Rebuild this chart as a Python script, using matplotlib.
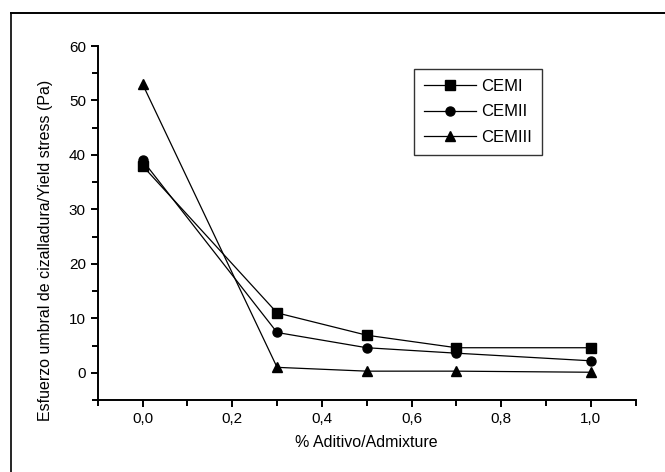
import numpy as np
import matplotlib
matplotlib.use("Agg")
import matplotlib.pyplot as plt
from matplotlib.ticker import MultipleLocator, FuncFormatter
from matplotlib.lines import Line2D

plt.rcParams["font.family"] = ["Liberation Sans", "DejaVu Sans"]

# data
admixture = [0.0, 0.3, 0.5, 0.7, 1.0]
cem_i = [38.0, 11.0, 6.9, 4.6, 4.6]
cem_ii = [39.0, 7.4, 4.6, 3.6, 2.2]
cem_iii = [53.0, 1.0, 0.3, 0.3, 0.1]
series_names = ["CEMI", "CEMII", "CEMIII"]

fig = plt.figure(figsize=(6.65, 4.72), dpi=100)
ax = fig.add_axes([0.147, 0.1525, 0.809, 0.750])

for vals, mk in zip([cem_i, cem_ii, cem_iii], ["s", "o", "^"]):
    ax.plot(admixture, vals, color="black", lw=0.9, marker=mk, ms=6.5,
            mfc="black", mec="black")

ax.set_xlim(-0.1, 1.1)
ax.set_ylim(-5, 60)
ax.xaxis.set_major_locator(MultipleLocator(0.2))
ax.xaxis.set_minor_locator(MultipleLocator(0.1))
ax.yaxis.set_major_locator(MultipleLocator(10))
ax.yaxis.set_minor_locator(MultipleLocator(5))
ax.xaxis.set_major_formatter(FuncFormatter(lambda v, p: f"{v:.1f}".replace(".", ",")))
ax.yaxis.set_major_formatter(FuncFormatter(lambda v, p: f"{v:.0f}"))

for s in ["top", "right"]:
    ax.spines[s].set_visible(False)
for s in ["left", "bottom"]:
    ax.spines[s].set_linewidth(1.4)
ax.tick_params(which="major", direction="out", length=5, width=1.4, labelsize=11)
ax.tick_params(which="minor", direction="out", length=4, width=1.4)

ax.set_xlabel("% Aditivo/Admixture", fontsize=11.5)
ax.set_ylabel("Esfuerzo umbral de cizalladura/Yield stress (Pa)", fontsize=11.5)
ax.xaxis.set_label_coords(0.50, -0.10)
ax.yaxis.set_label_coords(-0.084, 0.423)

handles = [Line2D([], [], color="black", lw=0.9, marker=m, ms=6.5) for m in ["s", "o", "^"]]
leg = ax.legend(handles, series_names, loc="upper left", bbox_to_anchor=(0.588, 0.935),
                fontsize=12, frameon=True, fancybox=False, edgecolor="black",
                handlelength=3.1, handletextpad=0.35, labelspacing=0.62,
                borderpad=0.6, borderaxespad=0)
leg.get_frame().set_linewidth(1.0)

# page border (left and top edges)
fig.add_artist(Line2D([11 / 665, 11 / 665], [0, 1 - 13 / 472], transform=fig.transFigure,
                      color="black", lw=1.2))
fig.add_artist(Line2D([11 / 665, 1], [1 - 13 / 472, 1 - 13 / 472], transform=fig.transFigure,
                      color="black", lw=1.4))

fig.savefig("out.png", dpi=100)
